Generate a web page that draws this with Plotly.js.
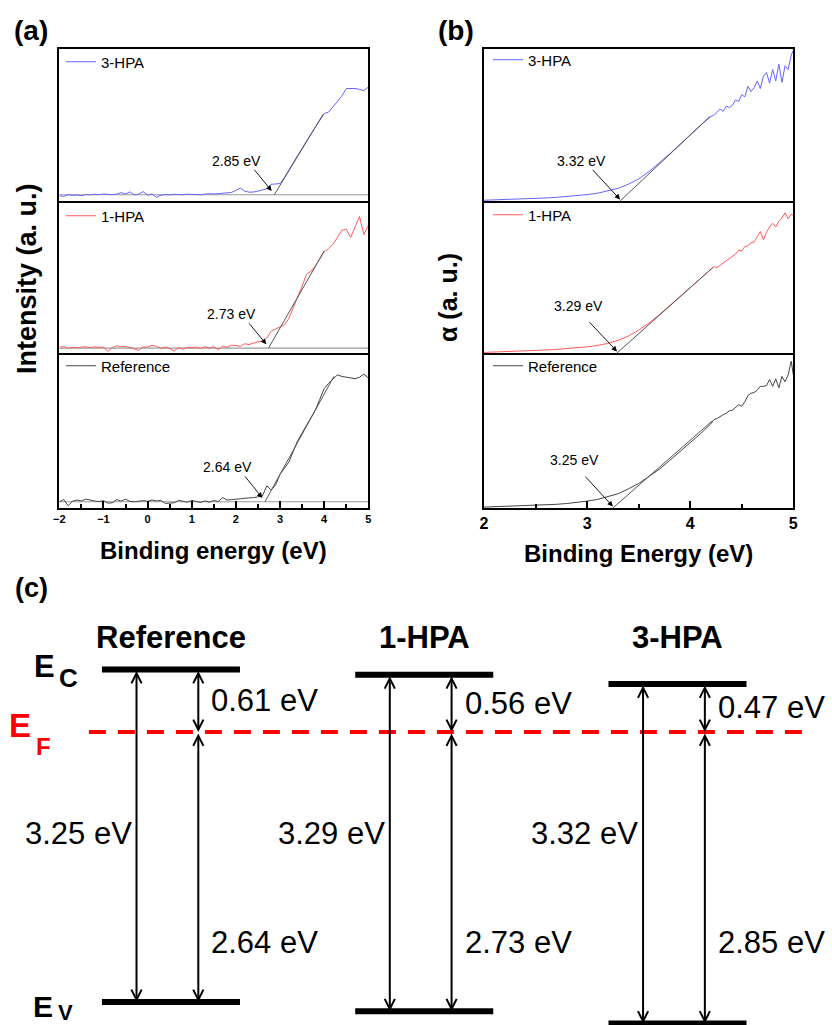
<!DOCTYPE html>
<html><head><meta charset="utf-8">
<script src="https://cdn.plot.ly/plotly-3.0.1.min.js"></script>
<style>html,body{margin:0;padding:0;background:#fff}</style>
</head><body><div id="chart" style="width:832px;height:1025px"></div>
<script>
// ---------- Panel (a): UPS valence-band spectra ----------
const aX = [-2.0,-1.9,-1.8,-1.7,-1.6,-1.5,-1.4,-1.3,-1.2,-1.1,-1.0,-0.9,-0.8,-0.7,-0.6,-0.5,-0.4,-0.3,-0.2,-0.1,
  0.0,0.1,0.2,0.3,0.4,0.5,0.6,0.7,0.8,0.9,1.0,1.1,1.2,1.3,1.4,1.5,1.6,1.7,1.8,1.9,
  2.0,2.1,2.2,2.3,2.4,2.5,2.6,2.7,2.8,2.9,3.0,3.1,3.2,3.3,3.4,3.5,3.6,3.7,3.8,3.9,
  4.0,4.1,4.2,4.3,4.4,4.5,4.6,4.7,4.8,4.9,5.0];
const a3HPA = [3.5,3.0,4.2,3.6,4.0,3.4,4.3,4.0,4.5,4.2,4.6,4.4,4.2,4.5,5.5,4.6,6.0,4.0,4.5,6.2,
  3.8,4.6,2.5,3.8,4.2,4.0,4.4,4.3,4.1,4.5,4.3,4.4,4.1,4.5,4.8,4.6,4.9,5.0,5.3,5.6,
  7.0,8.5,6.5,5.8,5.9,6.3,7.2,8.0,11.0,11.2,11.5,15.5,20.5,25.0,30.0,34.5,39.5,44.0,48.5,53.0,
  57.5,58.5,62.0,66.0,69.0,74.0,74.0,74.0,73.5,72.5,75.0];
const a1HPA = [3.5,4.5,3.0,3.8,3.5,4.0,4.2,3.6,4.1,3.8,4.0,1.0,3.5,4.8,4.2,4.4,3.8,2.8,1.6,4.2,
  3.9,5.2,4.5,3.2,4.0,3.0,1.2,3.6,2.5,3.8,3.6,4.0,3.0,4.2,3.3,4.2,2.2,4.6,3.8,5.2,
  5.0,4.4,6.2,5.6,6.6,7.2,8.0,10.0,14.5,16.0,17.2,18.8,23.0,30.0,37.5,44.5,52.5,54.5,58.0,63.0,
  67.5,69.5,72.5,77.0,81.7,82.6,77.0,84.0,91.0,79.0,85.0];
const aRef = [4.0,5.5,1.5,4.5,5.2,4.6,5.8,5.0,4.6,4.2,4.8,3.2,3.4,5.5,4.5,5.8,4.3,4.1,4.6,4.8,
  4.4,5.2,4.6,5.0,3.0,3.2,3.4,5.0,4.5,3.8,5.0,4.4,3.6,4.6,3.8,4.9,4.2,6.8,5.2,5.5,
  5.6,6.0,6.4,6.5,6.8,7.3,7.8,14.5,11.8,15.0,22.0,26.0,30.0,37.0,44.0,49.0,54.0,58.5,64.0,71.0,
  78.0,81.5,84.5,87.0,86.0,85.5,85.0,84.5,85.5,87.5,85.0];
const aBase = [4.1, 3.3, 4.1];            // background level: 3-HPA, 1-HPA, Reference
const aOnset = [2.85, 2.73, 2.64];        // valence-band onset (eV)
const aFitX = [[2.87,3.98],[2.74,4.00],[2.66,4.22]];
const aFitY = [[4.1,57.2],[3.3,68.0],[4.1,86.0]];

// ---------- Panel (b): absorption edge ----------
const bX = [2.0,2.1,2.2,2.3,2.4,2.5,2.6,2.7,2.8,2.9,3.0,3.1,3.2,3.3,3.4,3.5,3.6,3.7,3.8,3.9,4.0,4.1,4.2,
  4.23,4.26,4.29,4.32,4.35,4.38,4.41,4.44,4.47,4.50,4.53,4.56,4.59,4.62,4.65,4.68,4.71,4.74,4.77,4.80,
  4.83,4.86,4.89,4.92,4.95,4.98,5.0];
const b3HPA = [0.5,0.7,0.9,1.1,1.3,1.6,2.0,2.4,2.9,3.5,4.2,5.1,6.5,8.3,11.0,14.5,19.3,24.8,30.9,37.2,43.6,49.8,55.6,
  56.5,58.3,60.5,59.0,62.5,61.5,63.0,66.5,65.5,70.0,68.5,75.5,72.0,74.5,79.0,74.0,82.0,84.5,77.5,86.5,
  79.0,90.0,78.0,89.0,86.5,96.0,99.0];
const b1HPA = [0.4,0.6,0.8,1.0,1.3,1.6,2.0,2.4,2.9,3.4,4.1,5.0,6.4,8.4,11.3,15.2,20.0,25.5,31.6,37.6,43.6,49.6,55.5,
  57.5,57.0,58.5,60.0,61.5,63.5,64.5,66.0,68.5,68.0,71.0,71.5,73.5,74.0,77.5,81.0,75.5,80.5,84.0,86.5,
  84.0,88.0,90.0,93.5,89.5,92.5,91.5];
const bRef = [0.6,0.8,1.0,1.2,1.4,1.6,2.0,2.4,2.9,3.5,4.5,5.6,7.4,9.3,12.5,16.0,20.6,25.3,31.0,36.8,43.0,48.6,55.0,
  57.8,58.5,60.0,61.0,62.0,63.5,64.0,65.5,67.5,66.5,69.5,73.5,75.0,75.5,77.0,79.5,79.5,80.0,84.0,79.5,
  84.5,78.5,86.0,82.5,87.0,96.0,87.0];
const bOnset = [3.32, 3.29, 3.25];        // optical band gap (eV)
const bFitX = [[3.32,4.19],[3.29,4.22],[3.25,4.21]];
const bFitY = [[0,55.5],[0,57.0],[0,56.7]];

// ---------- Panel (c): band diagram ----------
const cSamples = ['Reference','1-HPA','3-HPA'];
const cGap = [3.25, 3.29, 3.32];          // Eg = EC - EV
const cVB  = [2.64, 2.73, 2.85];          // EF - EV
const cCB  = [0.61, 0.56, 0.47];          // EC - EF

const names = ['3-HPA','1-HPA','Reference'];
const colors = ['rgb(100,100,255)','rgb(255,90,90)','#444444'];

// ---------- build ----------
const FONT = 'Liberation Sans, Arial, sans-serif';
const W = 832, H = 1025;
const px = v => v / W, py = v => 1 - v / H;
const aSeries = [a3HPA, a1HPA, aRef];
const bSeries = [b3HPA, b1HPA, bRef];
const axA = [['x3','y3'],['x2','y2'],['x','y']];
const axB = [['x6','y6'],['x5','y5'],['x4','y4']];
const legA = ['legend','legend2','legend3'];
const legB = ['legend4','legend5','legend6'];
const traces = [];
const ann = [];

for (let i = 0; i < 3; i++) {
  // panel (a)
  traces.push({type:'scatter', mode:'lines', x:[aX[0], aX[aX.length-1]], y:[aBase[i], aBase[i]],
    xaxis:axA[i][0], yaxis:axA[i][1], line:{color:'#9a9a9a', width:1.2}, showlegend:false, hoverinfo:'skip'});
  traces.push({type:'scatter', mode:'lines', x:aX, y:aSeries[i], name:names[i], legend:legA[i],
    xaxis:axA[i][0], yaxis:axA[i][1], line:{color:colors[i], width:1}});
  traces.push({type:'scatter', mode:'lines', x:aFitX[i], y:aFitY[i],
    xaxis:axA[i][0], yaxis:axA[i][1], line:{color:'#555', width:1}, showlegend:false, hoverinfo:'skip'});
  const o = aOnset[i], b0 = aBase[i];
  ann.push({xref:axA[i][0], yref:axA[i][1], x:o-0.84, y:b0+22.5, xanchor:'center', yanchor:'middle',
    text:o.toFixed(2)+' eV', showarrow:false, font:{family:FONT, size:14, color:'#000'}});
  ann.push({xref:axA[i][0], yref:axA[i][1], axref:axA[i][0], ayref:axA[i][1], x:o-0.04, y:b0+2.5,
    ax:o-0.46, ay:b0+17.5, text:'', showarrow:true, arrowhead:2, arrowsize:1.2, arrowwidth:0.9, arrowcolor:'#000'});

  // panel (b)
  traces.push({type:'scatter', mode:'lines', x:bX, y:bSeries[i], name:names[i], legend:legB[i],
    xaxis:axB[i][0], yaxis:axB[i][1], line:{color:colors[i], width:1}});
  traces.push({type:'scatter', mode:'lines', x:bFitX[i], y:bFitY[i],
    xaxis:axB[i][0], yaxis:axB[i][1], line:{color:'#555', width:1}, showlegend:false, hoverinfo:'skip'});
  const g = bOnset[i];
  const labY = [26.5, 31.4, 31.4][i];
  ann.push({xref:axB[i][0], yref:axB[i][1], x:g-0.37, y:labY, xanchor:'center', yanchor:'middle',
    text:g.toFixed(2)+' eV', showarrow:false, font:{family:FONT, size:14, color:'#000'}});
  ann.push({xref:axB[i][0], yref:axB[i][1], axref:axB[i][0], ayref:axB[i][1], x:g, y:1.0,
    ax:g-0.28, ay:21.5, text:'', showarrow:true, arrowhead:2, arrowsize:1.2, arrowwidth:0.9, arrowcolor:'#000'});
}

// panel (c)
const cx = [0, 1, 2];
traces.push({type:'scatter', mode:'lines', x:[-0.324, 2.535], y:[0, 0], xaxis:'x7', yaxis:'y7',
  line:{color:'#ff0000', width:4, dash:'17px,12px'}, showlegend:false, hoverinfo:'skip'});
for (let i = 0; i < 3; i++) {
  const EC = cCB[i], EV = -cVB[i];
  const xl = cx[i] - 0.136, xr = cx[i] + 0.108;
  traces.push({type:'scatter', mode:'lines', x:[cx[i]-0.2725, cx[i]+0.2725], y:[EC, EC], xaxis:'x7', yaxis:'y7',
    line:{color:'#000', width:6}, showlegend:false, hoverinfo:'skip'});
  traces.push({type:'scatter', mode:'lines', x:[cx[i]-0.2725, cx[i]+0.2725], y:[EV, EV], xaxis:'x7', yaxis:'y7',
    line:{color:'#000', width:6}, showlegend:false, hoverinfo:'skip'});
  const arr = {xref:'x7', yref:'y7', axref:'x7', ayref:'y7', text:'', showarrow:true, arrowside:'end+start',
    arrowhead:5, startarrowhead:5, arrowsize:1.0, startarrowsize:1.0, arrowwidth:2, arrowcolor:'#000'};
  ann.push(Object.assign({}, arr, {x:xl, y:EV, ax:xl, ay:EC}));
  ann.push(Object.assign({}, arr, {x:xr, y:0, ax:xr, ay:EC}));
  ann.push(Object.assign({}, arr, {x:xr, y:EV, ax:xr, ay:0}));
  const lf = {family:FONT, size:31, color:'#000'};
  ann.push({xref:'x7', yref:'y7', x:xr, y:EC/2, xanchor:'left', yanchor:'middle', xshift:11,
    text:cCB[i].toFixed(2)+' eV', showarrow:false, font:lf});
  ann.push({xref:'x7', yref:'y7', x:xl, y:-0.99, xanchor:'right', yanchor:'middle', xshift:-3,
    text:cGap[i].toFixed(2)+' eV', showarrow:false, font:lf});
  ann.push({xref:'x7', yref:'y7', x:xr, y:-2.06, xanchor:'left', yanchor:'middle', xshift:11,
    text:cVB[i].toFixed(2)+' eV', showarrow:false, font:lf});
  ann.push({xref:'x7', yref:'paper', x:cx[i], y:py(637), xanchor:'center', yanchor:'middle',
    text:'<b>'+cSamples[i]+'</b>', showarrow:false, font:{family:FONT, size:31, color:'#000'}});
}

// level labels E_C, E_F, E_V
function txt(x, y, t, size, color, bold, angle) {
  ann.push({xref:'paper', yref:'paper', x:px(x), y:py(y), xanchor:'center', yanchor:'middle',
    text: bold ? '<b>'+t+'</b>' : t, textangle: angle || 0,
    showarrow:false, font:{family:FONT, size:size, color:color||'#000'}});
}
txt(44, 666, 'E', 31, '#000', true);  txt(68, 678, 'C', 26, '#000', true);
txt(20, 725, 'E', 33, '#ff0000', true); txt(43.5, 746.5, 'F', 24, '#ff0000', true);
txt(43, 1006, 'E', 30, '#000', true); txt(65, 1012, 'V', 22, '#000', true);

// panel letters and axis titles
txt(31, 30, '(a)', 28, '#000', true);
txt(456, 30, '(b)', 28, '#000', true);
txt(31, 588, '(c)', 27, '#000', true);
txt(214, 550.5, 'Binding energy (eV)', 24, '#000', true);
txt(638.7, 553, 'Binding Energy (eV)', 24, '#000', true);
txt(27, 279, 'Intensity (a. u.)', 27, '#000', true, -90);
txt(448, 298, 'α (a. u.)', 25, '#000', true, -90);

// ---------- axes ----------
const domA = [px(59.3), px(368.3)], domB = [px(484), px(793.3)];
// frame edges leave a 2px gap so neighbouring frame lines coincide
const rows = [[py(201), py(49)], [py(353), py(203)], [py(508), py(355)]]; // top, middle, bottom
const frame = {showline:true, mirror:true, linewidth:2, linecolor:'#000', showgrid:false, zeroline:false};
function xAx(dom, anchor, range, bottom, fsize) {
  const o = Object.assign({}, frame, {domain:dom, anchor:anchor, range:range});
  if (bottom) {
    Object.assign(o, {ticks:'inside', ticklen:7, tickwidth:2, tickcolor:'#000', dtick:1, tick0:0,
      tickfont:{family:FONT, size:fsize, weight:'bold', color:'#000'},
      minor:{ticks:'inside', ticklen:4, tickwidth:2, tickcolor:'#000', dtick:0.5, tick0:0, showgrid:false}});
  } else {
    Object.assign(o, {ticks:'', showticklabels:false});
  }
  return o;
}
function yAx(dom, anchor) {
  return Object.assign({}, frame, {domain:dom, anchor:anchor, range:[0,100], ticks:'', showticklabels:false});
}
function leg(xp, yp) {
  return {x:px(xp), y:py(yp), xanchor:'left', yanchor:'middle', bgcolor:'rgba(0,0,0,0)', borderwidth:0,
    font:{family:FONT, size:15, color:'#000'}, itemwidth:30};
}

const layout = {
  width:W, height:H, margin:{l:0, r:0, t:0, b:0}, paper_bgcolor:'#fff', plot_bgcolor:'rgba(0,0,0,0)',
  font:{family:FONT, color:'#000'}, showlegend:true,
  xaxis:  xAx(domA, 'y',  [-2,5], true, 11),
  xaxis2: xAx(domA, 'y2', [-2,5], false),
  xaxis3: xAx(domA, 'y3', [-2,5], false),
  xaxis4: xAx(domB, 'y4', [2,5], true, 16),
  xaxis5: xAx(domB, 'y5', [2,5], false),
  xaxis6: xAx(domB, 'y6', [2,5], false),
  yaxis:  yAx(rows[2], 'x'),
  yaxis2: yAx(rows[1], 'x2'),
  yaxis3: yAx(rows[0], 'x3'),
  yaxis4: yAx(rows[2], 'x4'),
  yaxis5: yAx(rows[1], 'x5'),
  yaxis6: yAx(rows[0], 'x6'),
  xaxis7: {domain:[0,1], range:[-0.675, 2.610], visible:false, anchor:'y7', fixedrange:true},
  yaxis7: {domain:[0, py(600)], range:[-2.864, 1.290], visible:false, anchor:'x7', fixedrange:true},
  legend:  leg(61, 62),
  legend2: leg(61, 216),
  legend3: leg(61, 366),
  legend4: leg(488, 60),
  legend5: leg(488, 215),
  legend6: leg(488, 366),
  annotations: ann
};

Plotly.newPlot('chart', traces, layout, {staticPlot:true, displayModeBar:false});
</script>
</body></html>
